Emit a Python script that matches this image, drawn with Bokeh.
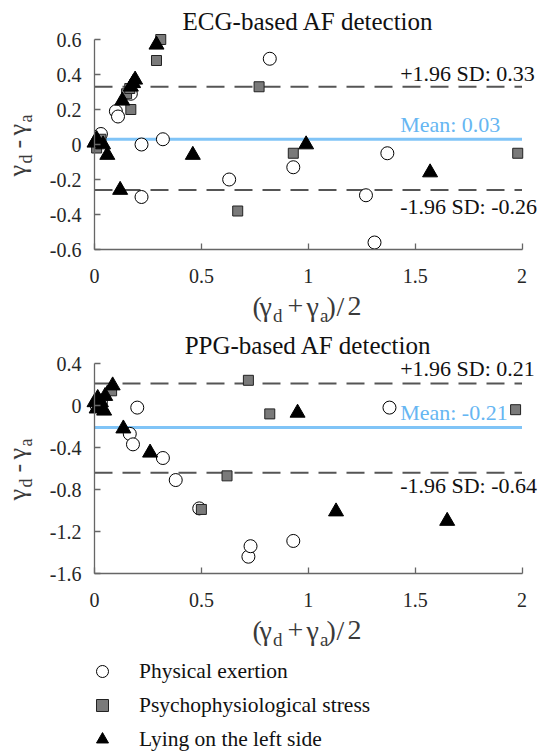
from bokeh.plotting import figure
from bokeh.models import Range1d, FixedTicker, Label, Legend, LegendItem
from bokeh.layouts import column
from bokeh.embed import file_html
from bokeh.resources import INLINE

# ---------------- data ----------------
x_ticks = [0, 0.5, 1, 1.5, 2]
x_tick_labels = ["0", "0.5", "1", "1.5", "2"]
ecg_y_ticks = [-0.6, -0.4, -0.2, 0, 0.2, 0.4, 0.6]
ecg_y_tick_labels = ["-0.6", "-0.4", "-0.2", "0", "0.2", "0.4", "0.6"]
ppg_y_ticks = [-1.6, -1.2, -0.8, -0.4, 0, 0.4]
ppg_y_tick_labels = ["-1.6", "-1.2", "-0.8", "-0.4", "0", "0.4"]

categories = ["Physical exertion", "Psychophysiological stress", "Lying on the left side"]
titles = ["ECG-based AF detection", "PPG-based AF detection"]

# ECG: x = (gamma_d + gamma_a)/2, y = gamma_d - gamma_a
ecg_exertion_x = [0.02, 0.03, 0.10, 0.11, 0.17, 0.22, 0.22, 0.32, 0.63, 0.82, 0.93, 1.27, 1.31, 1.37]
ecg_exertion_y = [0.02, 0.06, 0.19, 0.16, 0.29, 0.00, -0.30, 0.03, -0.20, 0.49, -0.13, -0.29, -0.56, -0.05]
ecg_stress_x = [0.01, 0.03, 0.15, 0.165, 0.17, 0.29, 0.31, 0.67, 0.77, 0.93, 1.98]
ecg_stress_y = [-0.02, 0.03, 0.29, 0.32, 0.20, 0.48, 0.60, -0.38, 0.33, -0.05, -0.05]
ecg_lying_x = [0.00, 0.01, 0.04, 0.06, 0.12, 0.13, 0.17, 0.18, 0.19, 0.29, 0.46, 0.99, 1.57]
ecg_lying_y = [0.01, 0.03, 0.00, -0.06, -0.26, 0.25, 0.33, 0.35, 0.37, 0.57, -0.06, 0.00, -0.16]
ecg_mean, ecg_upper, ecg_lower = 0.03, 0.33, -0.26

# PPG
ppg_exertion_x = [0.01, 0.03, 0.20, 0.165, 0.18, 0.32, 0.38, 0.49, 0.72, 0.73, 0.93, 1.38]
ppg_exertion_y = [0.00, 0.03, -0.02, -0.27, -0.37, -0.50, -0.71, -0.98, -1.44, -1.34, -1.29, -0.02]
ppg_stress_x = [0.02, 0.08, 0.50, 0.62, 0.72, 0.82, 1.97]
ppg_stress_y = [0.01, 0.14, -0.99, -0.67, 0.24, -0.08, -0.04]
ppg_lying_x = [0.00, 0.015, 0.03, 0.01, 0.045, 0.05, 0.085, 0.135, 0.26, 0.95, 1.13, 1.65]
ppg_lying_y = [0.03, 0.07, 0.03, -0.03, -0.05, 0.09, 0.19, -0.22, -0.45, -0.07, -1.01, -1.10]
ppg_mean, ppg_upper, ppg_lower = -0.21, 0.21, -0.64

# ---------------- layout / style ----------------
W = 545
AX_LEFT, AX_RIGHT = 94.0, 521.5      # pixel columns of first / last x tick
FRAME_H = 210.0                      # pixel distance between first and last y tick
FONT = "Liberation Serif"
AXIS_COL = "#666666"
TXT_COL = "#262626"
DASH_COL = "#555555"
MEAN_COL = "#80c4f7"
MEAN_TXT = "#66b6f2"
LAB_COL = "#3a3a3a"
MID = 0.3375                         # anchor sits this many em above the baseline


def add_text(p, H, text, x, y_base, size, angle=0.0, color=LAB_COL, align="left",
             x_units="screen"):
    if angle == 0.0:
        y_anchor = y_base - MID * size
    else:
        y_anchor = y_base
        x = x - MID * size
    p.add_layout(Label(x=x, y=H - y_anchor, x_units=x_units, y_units="screen",
                       text=text, angle=angle, text_font=FONT,
                       text_font_size="%gpx" % size, text_color=color,
                       text_align=align, text_baseline="middle"))


def make_panel(title, series, stats, y_ticks, y_labels, H, ax_top, offsets):
    ax_bottom = ax_top + FRAME_H
    xppu = (AX_RIGHT - AX_LEFT) / (x_ticks[-1] - x_ticks[0])
    xs = x_ticks[0] - AX_LEFT / xppu
    yppu = FRAME_H / (y_ticks[-1] - y_ticks[0])
    ye = y_ticks[-1] + ax_top / yppu
    ys = ye - H / yppu

    p = figure(width=W, height=H, output_backend="svg", toolbar_location=None,
               x_range=Range1d(xs, xs + W / xppu), y_range=Range1d(ys, ye),
               min_border=0)
    p.outline_line_color = None
    p.grid.visible = False
    p.title.visible = False

    p.xaxis.fixed_location = y_ticks[0]
    p.xaxis.bounds = (x_ticks[0], x_ticks[-1])
    p.yaxis.fixed_location = x_ticks[0]
    p.yaxis.bounds = (y_ticks[0], y_ticks[-1])
    for ax, ticks, labels in ((p.xaxis[0], x_ticks, x_tick_labels),
                              (p.yaxis[0], y_ticks, y_labels)):
        ax.ticker = FixedTicker(ticks=ticks)
        ax.major_label_overrides = dict(zip(ticks, labels))
        ax.minor_tick_line_color = None
        ax.major_tick_in = 6
        ax.major_tick_out = 0
        ax.axis_line_color = AXIS_COL
        ax.axis_line_width = 1.3
        ax.major_tick_line_color = AXIS_COL
        ax.major_tick_line_width = 1.3
        ax.major_label_text_font = FONT
        ax.major_label_text_font_size = "20px"
        ax.major_label_text_color = TXT_COL
    p.yaxis.major_label_standoff = 13
    p.xaxis.major_label_standoff = 19

    mean, upper, lower = stats
    x_lo, x_hi = x_ticks[0], x_ticks[-1]
    p.segment(x0=[x_lo, x_lo], x1=[x_hi, x_hi], y0=[upper, lower], y1=[upper, lower],
              line_color=DASH_COL, line_dash="18 10", line_width=2)
    p.segment(x0=[x_lo], x1=[x_hi], y0=[mean], y1=[mean], line_color=MEAN_COL,
              line_width=3)

    up_off, mean_off, low_off = offsets
    for loc, txt, off, col in ((upper, "+1.96 SD: %.2f" % upper, up_off, "#111111"),
                               (mean, "Mean: %.2f" % mean, mean_off, MEAN_TXT),
                               (lower, "-1.96 SD: %.2f" % lower, low_off, "#111111")):
        p.add_layout(Label(x=1.43, y=loc, text=txt, y_offset=off + MID * 22,
                           text_font=FONT, text_font_size="22px", text_color=col,
                           text_baseline="middle", text_align="left"))

    (ex_x, ex_y), (st_x, st_y), (ly_x, ly_y) = series
    r1 = p.scatter(ex_x, ex_y, marker="circle", size=13, fill_color="white",
                   line_color="black", line_width=1)
    r2 = p.scatter(st_x, st_y, marker="square", size=10, fill_color="#7a7a7a",
                   line_color="#222222", line_width=1)
    r3 = p.scatter(ly_x, ly_y, marker="triangle", size=15, fill_color="black",
                   line_color="black", line_width=1)

    # title
    add_text(p, H, title, (x_ticks[0] + x_ticks[-1]) / 2, ax_top - 10, 25,
             color="#111111", align="center", x_units="data")

    # x-axis label: (gamma_d + gamma_a)/2
    yb = ax_bottom + 66
    add_text(p, H, "(", 252, yb, 28)
    add_text(p, H, "\u03b3", 259, yb, 28)
    add_text(p, H, "d", 272.5, yb + 6, 19)
    add_text(p, H, "+", 287, yb, 28)
    add_text(p, H, "\u03b3", 306, yb, 28)
    add_text(p, H, "a", 319.5, yb + 6, 19)
    add_text(p, H, ")", 326, yb, 28)
    add_text(p, H, "/", 336, yb, 28)
    add_text(p, H, "2", 347, yb, 28)

    # y-axis label: gamma_d - gamma_a (rotated, reading upwards)
    xb = 26
    y0 = ax_top + FRAME_H / 2 + 32
    ang = 1.5708
    add_text(p, H, "\u03b3", xb, y0, 26, ang)
    add_text(p, H, "d", xb + 6, y0 - 13, 18, ang)
    add_text(p, H, "-", xb, y0 - 28, 26, ang)
    add_text(p, H, "\u03b3", xb, y0 - 41, 26, ang)
    add_text(p, H, "a", xb + 6, y0 - 54, 18, ang)
    return p, (r1, r2, r3)


H1, H2 = 332, 420
p1, _ = make_panel(titles[0],
                   ((ecg_exertion_x, ecg_exertion_y), (ecg_stress_x, ecg_stress_y),
                    (ecg_lying_x, ecg_lying_y)),
                   (ecg_mean, ecg_upper, ecg_lower), ecg_y_ticks, ecg_y_tick_labels,
                   H1, 39.0, (6, 7, -24))

p2, rs = make_panel(titles[1],
                    ((ppg_exertion_x, ppg_exertion_y), (ppg_stress_x, ppg_stress_y),
                     (ppg_lying_x, ppg_lying_y)),
                    (ppg_mean, ppg_upper, ppg_lower), ppg_y_ticks, ppg_y_tick_labels,
                    H2, 363.0 - H1, (8, 8, -20))

# legend: rows centred 339, 373, 407 px below the top of the lower figure
legend = Legend(items=[LegendItem(label=c, renderers=[r]) for c, r in zip(categories, rs)],
                location=(87, H2 - 422), glyph_width=30, glyph_height=30, spacing=4,
                padding=0, margin=0, label_standoff=22, border_line_color=None,
                background_fill_alpha=0, label_text_font=FONT,
                label_text_font_size="21.5px", label_text_color="#111111")
p2.add_layout(legend)

layout = column(p1, p2, spacing=0)
open("out.html", "w").write(file_html(layout, INLINE))
